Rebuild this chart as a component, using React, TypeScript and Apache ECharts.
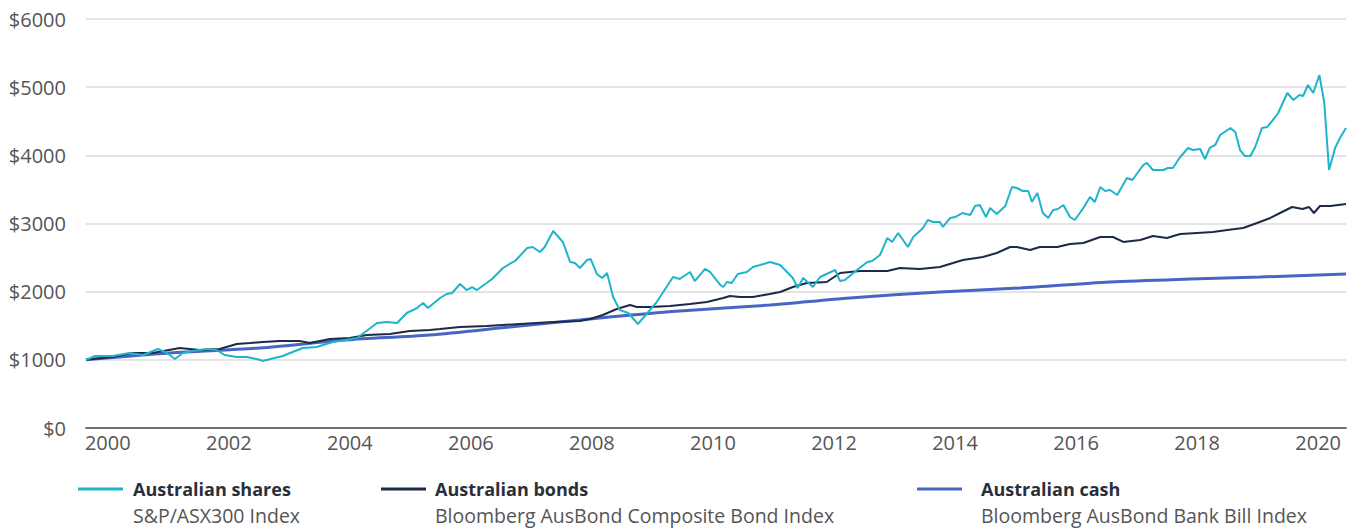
import React, { useEffect, useRef } from "react";
import * as echarts from "echarts";

const xTickYears = [2000, 2002, 2004, 2006, 2008, 2010, 2012, 2014, 2016, 2018, 2020];

const sharesData: [number, number][] = [
  [1999.64, 1000], [1999.79, 1056], [2000.08, 1056], [2000.36, 1100], [2000.58, 1071],
  [2000.83, 1159], [2000.98, 1100], [2001.11, 1012], [2001.24, 1100], [2001.4, 1130],
  [2001.64, 1159], [2001.8, 1144], [2001.93, 1071], [2002.13, 1042], [2002.3, 1042],
  [2002.51, 1000], [2002.56, 983], [2002.89, 1056], [2003.22, 1174], [2003.45, 1188],
  [2003.72, 1262], [2004.12, 1320], [2004.45, 1540], [2004.61, 1555], [2004.78, 1540],
  [2004.94, 1687], [2005.11, 1760], [2005.21, 1834], [2005.29, 1760], [2005.49, 1907],
  [2005.6, 1966], [2005.69, 1980], [2005.82, 2112], [2005.93, 2024], [2006.02, 2068],
  [2006.1, 2024], [2006.26, 2127], [2006.35, 2186], [2006.53, 2347], [2006.64, 2406],
  [2006.73, 2450], [2006.93, 2641], [2007.02, 2655], [2007.14, 2582], [2007.22, 2655],
  [2007.36, 2890], [2007.52, 2729], [2007.64, 2435], [2007.72, 2421], [2007.8, 2347],
  [2007.92, 2465], [2007.98, 2479], [2008.08, 2260], [2008.17, 2200], [2008.25, 2274],
  [2008.35, 1922], [2008.46, 1731], [2008.6, 1687], [2008.76, 1526], [2008.93, 1702],
  [2009.07, 1848], [2009.34, 2215], [2009.45, 2186], [2009.62, 2289], [2009.7, 2156],
  [2009.87, 2333], [2009.95, 2289], [2010.12, 2098], [2010.17, 2068], [2010.23, 2142],
  [2010.31, 2127], [2010.41, 2259], [2010.56, 2289], [2010.66, 2362], [2010.78, 2391],
  [2010.89, 2421], [2010.94, 2435], [2011.11, 2391], [2011.32, 2200], [2011.4, 2054],
  [2011.49, 2200], [2011.65, 2068], [2011.77, 2215], [2012.02, 2318], [2012.1, 2156],
  [2012.18, 2171], [2012.38, 2318], [2012.55, 2435], [2012.63, 2450], [2012.76, 2538],
  [2012.88, 2787], [2012.96, 2729], [2013.06, 2861], [2013.22, 2655], [2013.31, 2802],
  [2013.47, 2934], [2013.55, 3051], [2013.64, 3022], [2013.75, 3022], [2013.8, 2949],
  [2013.92, 3081], [2014.0, 3095], [2014.12, 3154], [2014.25, 3125], [2014.33, 3257],
  [2014.41, 3271], [2014.51, 3095], [2014.58, 3227], [2014.69, 3139], [2014.83, 3257],
  [2014.94, 3535], [2015.02, 3521], [2015.12, 3477], [2015.21, 3477], [2015.27, 3315],
  [2015.36, 3447], [2015.45, 3154], [2015.54, 3081], [2015.62, 3198], [2015.7, 3213],
  [2015.79, 3271], [2015.9, 3095], [2015.98, 3051], [2016.12, 3227], [2016.23, 3389],
  [2016.31, 3315], [2016.4, 3535], [2016.48, 3477], [2016.56, 3491], [2016.68, 3418],
  [2016.84, 3668], [2016.93, 3638], [2017.11, 3858], [2017.17, 3888], [2017.27, 3785],
  [2017.44, 3785], [2017.52, 3814], [2017.6, 3814], [2017.72, 3976], [2017.85, 4108],
  [2017.93, 4078], [2018.05, 4093], [2018.13, 3946], [2018.21, 4108], [2018.3, 4152],
  [2018.38, 4298], [2018.55, 4401], [2018.63, 4342], [2018.71, 4078], [2018.79, 3990],
  [2018.88, 3990], [2018.96, 4122], [2019.07, 4401], [2019.16, 4416], [2019.29, 4562],
  [2019.34, 4621], [2019.49, 4914], [2019.59, 4812], [2019.69, 4885], [2019.75, 4870],
  [2019.83, 5032], [2019.92, 4914], [2020.02, 5178], [2020.1, 4782], [2020.18, 3785],
  [2020.28, 4108], [2020.36, 4254], [2020.46, 4401],
];

const bondsData: [number, number][] = [
  [1999.64, 1000], [2000.08, 1042], [2000.41, 1100], [2000.74, 1100], [2001.19, 1174],
  [2001.52, 1144], [2001.85, 1159], [2002.13, 1232], [2002.35, 1247], [2002.56, 1262],
  [2002.84, 1276], [2003.17, 1276], [2003.34, 1247], [2003.67, 1306], [2004.0, 1320],
  [2004.28, 1364], [2004.66, 1379], [2004.99, 1423], [2005.32, 1438], [2005.49, 1452],
  [2005.82, 1482], [2006.26, 1496], [2006.81, 1526], [2007.36, 1555], [2007.8, 1570],
  [2007.97, 1599], [2008.18, 1658], [2008.41, 1746], [2008.63, 1804], [2008.74, 1775],
  [2008.96, 1775], [2009.29, 1790], [2009.62, 1819], [2009.9, 1848], [2010.17, 1907],
  [2010.28, 1936], [2010.45, 1922], [2010.66, 1922], [2010.94, 1966], [2011.11, 1995],
  [2011.32, 2068], [2011.55, 2127], [2011.88, 2142], [2012.1, 2274], [2012.43, 2303],
  [2012.88, 2303], [2013.09, 2347], [2013.42, 2333], [2013.75, 2362], [2014.13, 2465],
  [2014.46, 2509], [2014.69, 2567], [2014.91, 2655], [2015.02, 2655], [2015.24, 2611],
  [2015.4, 2655], [2015.69, 2655], [2015.9, 2699], [2016.12, 2714], [2016.4, 2802],
  [2016.61, 2802], [2016.78, 2729], [2017.06, 2758], [2017.27, 2817], [2017.5, 2787],
  [2017.72, 2846], [2018.0, 2861], [2018.26, 2875], [2018.5, 2905], [2018.76, 2934],
  [2018.99, 3007], [2019.21, 3081], [2019.37, 3154], [2019.57, 3242], [2019.74, 3213],
  [2019.85, 3242], [2019.93, 3154], [2020.03, 3257], [2020.2, 3257], [2020.46, 3286],
];

const cashData: [number, number][] = [
  [1999.64, 1000], [2001.02, 1100], [2002.51, 1174], [2003.93, 1291], [2005.32, 1364],
  [2006.64, 1482], [2008.13, 1614], [2009.45, 1716], [2010.94, 1804], [2012.26, 1907],
  [2013.75, 1995], [2015.07, 2054], [2016.56, 2142], [2017.88, 2186], [2019.04, 2215],
  [2020.46, 2259],
];

const seriesNames = ["Australian shares", "Australian bonds", "Australian cash"];
const seriesSubtitles = [
  "S&P/ASX300 Index",
  "Bloomberg AusBond Composite Bond Index",
  "Bloomberg AusBond Bank Bill Index",
];
const seriesColors = ["#1fb3cc", "#1c2a45", "#4766c4"];

const FONT = '"Open Sans", "Noto Sans", sans-serif';

export default function App() {
  const ref = useRef<HTMLDivElement>(null);

  useEffect(() => {
    if (!ref.current) return;
    const chart = echarts.init(ref.current, undefined, { renderer: "svg" });

    const legendX = [78, 381, 917];
    const legendTextX = [133, 435, 981];
    const graphics: any[] = [];
    for (let i = 0; i < 3; i++) {
      graphics.push({
        type: "line",
        shape: { x1: legendX[i], y1: 489, x2: legendX[i] + 45, y2: 489 },
        style: { stroke: seriesColors[i], lineWidth: 3 },
      });
      graphics.push({
        type: "text",
        x: legendTextX[i],
        y: 489,
        style: {
          text: seriesNames[i],
          font: `bold 18px ${FONT}`,
          fill: "#2a2f3a",
          textVerticalAlign: "middle",
          verticalAlign: "middle",
        },
      });
      graphics.push({
        type: "text",
        x: legendTextX[i],
        y: 515,
        style: {
          text: seriesSubtitles[i],
          font: `19.5px ${FONT}`,
          fill: "#555555",
          textVerticalAlign: "middle",
          verticalAlign: "middle",
        },
      });
    }

    chart.setOption({
      animation: false,
      backgroundColor: "#ffffff",
      grid: { left: 86, right: 21, top: 19, bottom: 102, containLabel: false },
      xAxis: {
        type: "value",
        min: 1999.64,
        max: 2020.46,
        splitLine: { show: false },
        axisTick: { show: false },
        axisLine: { show: true, lineStyle: { color: "#4a4a4a", width: 1.5 } },
        axisLabel: {
          customValues: xTickYears,
          formatter: (v: number) => String(Math.round(v)),
          color: "#555555",
          fontSize: 20,
          fontFamily: FONT,
          margin: 4,
        },
      },
      yAxis: {
        type: "value",
        min: 0,
        max: 6000,
        interval: 1000,
        axisLine: { show: false },
        axisTick: { show: false },
        splitLine: { lineStyle: { color: "#dadae0", width: 1.5 } },
        axisLabel: {
          formatter: (v: number) => "$" + v,
          color: "#555555",
          fontSize: 20,
          fontFamily: FONT,
          margin: 20,
        },
      },
      series: [
        {
          name: seriesNames[2],
          type: "line",
          data: cashData,
          symbol: "none",
          smooth: 0.3,
          lineStyle: { color: seriesColors[2], width: 3 },
          z: 2,
        },
        {
          name: seriesNames[1],
          type: "line",
          data: bondsData,
          symbol: "none",
          lineStyle: { color: seriesColors[1], width: 2 },
          z: 3,
        },
        {
          name: seriesNames[0],
          type: "line",
          data: sharesData,
          symbol: "none",
          lineStyle: { color: seriesColors[0], width: 2 },
          z: 4,
        },
      ],
      graphic: graphics,
    });

    return () => chart.dispose();
  }, []);

  return (
    <div
      ref={ref}
      style={{ position: "fixed", left: 0, top: 0, width: 1367, height: 530 }}
    />
  );
}
